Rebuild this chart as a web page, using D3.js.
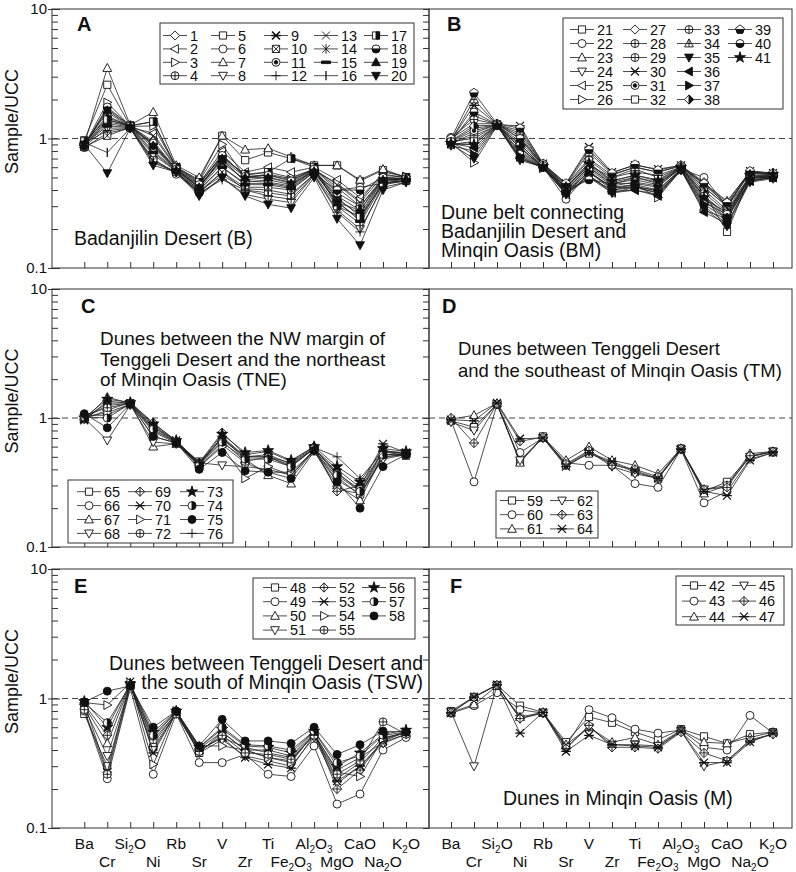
<!DOCTYPE html>
<html>
<head>
<meta charset="utf-8">
<script src="https://cdn.jsdelivr.net/npm/d3@7"></script>
<style>
  body { margin: 0; background: #fff; }
  svg { font-family: 'Liberation Sans', Arial, Helvetica, sans-serif; }
</style>
</head>
<body>
<div id="chart"></div>
<script>
// element order along the x axis
var categories = ['Ba', 'Cr', 'SiO2', 'Ni', 'Rb', 'Sr', 'V', 'Zr', 'Ti', 'Fe2O3', 'Al2O3', 'MgO', 'CaO', 'Na2O', 'K2O'];
// "_" means the next character is a subscript
var categoryLabels = ['Ba', 'Cr', 'Si_2O', 'Ni', 'Rb', 'Sr', 'V', 'Zr', 'Ti', 'Fe_2O_3', 'Al_2O_3', 'MgO', 'CaO', 'Na_2O', 'K_2O'];
var yTicks = [0.1, 1, 10];

// A - Badanjilin Desert
var samplesA = ['1', '2', '3', '4', '5', '6', '7', '8', '9', '10', '11', '12', '13', '14', '15', '16', '17', '18', '19', '20'];
var markersA = ['diamond', 'triL', 'triR', 'cplus', 'square', 'circle', 'tri', 'triD', 'aster', 'sqx', 'cdot', 'plus', 'x', 'star6', 'hbar', 'vbar', 'sqhalf', 'chalf', 'triF', 'triDF'];
var valuesA = [
  [0.92, 1.45, 1.25, 0.95, 0.58, 0.42, 0.72, 0.52, 0.55, 0.5, 0.58, 0.42, 0.3, 0.5, 0.49],
  [0.9, 1.6, 1.22, 1.1, 0.6, 0.45, 0.8, 0.55, 0.6, 0.55, 0.6, 0.48, 0.35, 0.53, 0.5],
  [0.88, 1.9, 1.24, 1.25, 0.6, 0.47, 0.9, 0.5, 0.52, 0.48, 0.57, 0.45, 0.33, 0.55, 0.51],
  [0.9, 1.3, 1.23, 0.8, 0.57, 0.4, 0.6, 0.45, 0.45, 0.42, 0.56, 0.35, 0.25, 0.48, 0.48],
  [0.97, 2.6, 1.25, 1.35, 0.6, 0.48, 1.05, 0.68, 0.78, 0.7, 0.62, 0.62, 0.47, 0.57, 0.5],
  [0.85, 1.1, 1.2, 0.7, 0.53, 0.38, 0.55, 0.4, 0.38, 0.36, 0.53, 0.4, 0.42, 0.45, 0.47],
  [0.9, 3.5, 1.27, 1.6, 0.62, 0.5, 1.05, 0.82, 0.84, 0.72, 0.62, 0.62, 0.48, 0.58, 0.5],
  [0.87, 1.2, 1.21, 0.75, 0.56, 0.37, 0.5, 0.37, 0.34, 0.32, 0.52, 0.28, 0.2, 0.42, 0.46],
  [0.88, 1.4, 1.24, 0.9, 0.58, 0.41, 0.65, 0.48, 0.5, 0.46, 0.57, 0.36, 0.28, 0.5, 0.48],
  [0.86, 1.05, 1.22, 0.68, 0.55, 0.39, 0.55, 0.42, 0.42, 0.4, 0.55, 0.32, 0.24, 0.46, 0.47],
  [0.9, 1.5, 1.23, 0.85, 0.57, 0.43, 0.7, 0.46, 0.48, 0.44, 0.56, 0.38, 0.3, 0.48, 0.49],
  [0.92, 1.15, 1.2, 0.65, 0.55, 0.38, 0.48, 0.4, 0.36, 0.34, 0.52, 0.27, 0.19, 0.44, 0.47],
  [0.89, 1.7, 1.25, 1.05, 0.59, 0.44, 0.76, 0.5, 0.53, 0.49, 0.58, 0.44, 0.32, 0.52, 0.5],
  [0.91, 1.35, 1.24, 0.9, 0.58, 0.42, 0.68, 0.47, 0.46, 0.43, 0.57, 0.34, 0.26, 0.49, 0.48],
  [0.9, 1.25, 1.22, 0.78, 0.56, 0.4, 0.6, 0.44, 0.44, 0.41, 0.55, 0.33, 0.23, 0.47, 0.48],
  [0.93, 0.78, 1.2, 0.66, 0.55, 0.39, 0.52, 0.41, 0.4, 0.37, 0.53, 0.3, 0.22, 0.45, 0.47],
  [0.95, 1.4, 1.26, 1.35, 0.6, 0.46, 0.72, 0.53, 0.55, 0.7, 0.6, 0.3, 0.25, 0.44, 0.5],
  [0.88, 1.75, 1.25, 0.92, 0.58, 0.44, 0.74, 0.51, 0.52, 0.47, 0.58, 0.4, 0.4, 0.5, 0.49],
  [0.9, 1.65, 1.24, 0.88, 0.57, 0.42, 0.7, 0.5, 0.5, 0.45, 0.56, 0.32, 0.28, 0.48, 0.49],
  [0.9, 0.54, 1.2, 0.62, 0.55, 0.36, 0.5, 0.36, 0.31, 0.29, 0.5, 0.24, 0.15, 0.4, 0.46]
];

// B - dune belt Badanjilin / Minqin
var samplesB = ['21', '22', '23', '24', '25', '26', '27', '28', '29', '30', '31', '32', '33', '34', '35', '36', '37', '38', '39', '40', '41'];
var markersB = ['square', 'circle', 'tri', 'triD', 'triL', 'triR', 'diamond', 'cplus', 'cplus', 'xbar', 'cdot', 'square', 'cplus', 'trplus', 'triDF', 'triLF', 'triRF', 'dhalf', 'phalf', 'chalf', 'star'];
var valuesB = [
  [0.95, 1.0, 1.27, 0.95, 0.62, 0.4, 0.6, 0.45, 0.45, 0.42, 0.6, 0.38, 0.19, 0.5, 0.52],
  [0.92, 1.1, 1.28, 0.85, 0.6, 0.34, 0.55, 0.42, 0.42, 0.4, 0.58, 0.5, 0.3, 0.5, 0.5],
  [1.0, 1.3, 1.3, 1.0, 0.63, 0.42, 0.62, 0.5, 0.58, 0.5, 0.6, 0.45, 0.33, 0.55, 0.53],
  [0.88, 0.8, 1.26, 0.75, 0.6, 0.38, 0.5, 0.4, 0.42, 0.38, 0.57, 0.3, 0.22, 0.47, 0.5],
  [0.9, 0.9, 1.27, 0.7, 0.6, 0.37, 0.52, 0.38, 0.4, 0.37, 0.57, 0.28, 0.24, 0.47, 0.5],
  [0.93, 0.65, 1.25, 0.72, 0.59, 0.38, 0.55, 0.42, 0.44, 0.35, 0.57, 0.32, 0.26, 0.5, 0.51],
  [0.98, 1.5, 1.28, 1.1, 0.63, 0.44, 0.7, 0.52, 0.6, 0.55, 0.62, 0.46, 0.3, 0.55, 0.53],
  [0.95, 1.2, 1.27, 0.9, 0.61, 0.42, 0.65, 0.47, 0.52, 0.48, 0.6, 0.4, 0.28, 0.52, 0.52],
  [0.92, 1.05, 1.26, 0.85, 0.6, 0.4, 0.6, 0.44, 0.5, 0.45, 0.59, 0.36, 0.25, 0.5, 0.5],
  [0.97, 1.8, 1.28, 1.25, 0.64, 0.45, 0.86, 0.55, 0.62, 0.58, 0.62, 0.42, 0.3, 0.56, 0.54],
  [0.94, 1.15, 1.27, 0.8, 0.61, 0.39, 0.58, 0.43, 0.46, 0.43, 0.59, 0.34, 0.27, 0.5, 0.51],
  [0.9, 0.95, 1.26, 0.78, 0.6, 0.38, 0.56, 0.41, 0.44, 0.4, 0.58, 0.33, 0.24, 0.49, 0.5],
  [1.02, 1.4, 1.29, 1.05, 0.62, 0.43, 0.68, 0.5, 0.55, 0.52, 0.6, 0.42, 0.3, 0.54, 0.53],
  [0.96, 2.0, 1.28, 1.15, 0.63, 0.44, 0.78, 0.53, 0.6, 0.55, 0.61, 0.44, 0.31, 0.55, 0.54],
  [0.9, 0.7, 1.26, 0.68, 0.6, 0.37, 0.5, 0.38, 0.42, 0.38, 0.57, 0.29, 0.21, 0.46, 0.49],
  [0.92, 0.85, 1.26, 0.7, 0.6, 0.38, 0.52, 0.39, 0.4, 0.36, 0.57, 0.27, 0.22, 0.47, 0.5],
  [0.94, 0.75, 1.27, 0.73, 0.6, 0.39, 0.55, 0.4, 0.43, 0.39, 0.58, 0.31, 0.24, 0.48, 0.5],
  [0.96, 1.25, 1.27, 0.9, 0.61, 0.41, 0.62, 0.46, 0.5, 0.46, 0.59, 0.38, 0.27, 0.51, 0.52],
  [1.0, 2.25, 1.3, 1.2, 0.64, 0.45, 0.82, 0.54, 0.63, 0.57, 0.62, 0.45, 0.32, 0.56, 0.54],
  [0.95, 1.6, 1.28, 1.0, 0.62, 0.4, 0.48, 0.45, 0.48, 0.44, 0.6, 0.36, 0.26, 0.5, 0.51],
  [0.92, 0.9, 1.27, 0.85, 0.61, 0.42, 0.64, 0.47, 0.52, 0.47, 0.6, 0.35, 0.24, 0.52, 0.53]
];

// C - NW margin of Tenggeli / NE of Minqin
var samplesC = ['65', '66', '67', '68', '69', '70', '71', '72', '73', '74', '75', '76'];
var markersC = ['square', 'circle', 'tri', 'triD', 'dplus', 'xbar', 'triR', 'cplus', 'star', 'chalfR', 'cfill', 'plus'];
var valuesC = [
  [1.0, 1.25, 1.3, 0.85, 0.65, 0.46, 0.68, 0.5, 0.5, 0.42, 0.58, 0.38, 0.27, 0.55, 0.51],
  [1.05, 1.05, 1.28, 0.78, 0.64, 0.42, 0.62, 0.45, 0.38, 0.38, 0.56, 0.35, 0.25, 0.5, 0.52],
  [0.98, 1.45, 1.3, 0.6, 0.63, 0.44, 0.7, 0.48, 0.36, 0.31, 0.55, 0.3, 0.23, 0.52, 0.53],
  [1.0, 0.67, 1.26, 0.65, 0.63, 0.45, 0.43, 0.42, 0.4, 0.36, 0.56, 0.28, 0.26, 0.48, 0.52],
  [0.98, 1.15, 1.32, 0.92, 0.66, 0.45, 0.77, 0.52, 0.55, 0.46, 0.6, 0.27, 0.3, 0.55, 0.53],
  [0.96, 1.35, 1.3, 0.85, 0.67, 0.43, 0.72, 0.5, 0.52, 0.44, 0.58, 0.4, 0.29, 0.63, 0.54],
  [1.02, 1.1, 1.28, 0.72, 0.64, 0.42, 0.6, 0.34, 0.42, 0.36, 0.57, 0.33, 0.26, 0.5, 0.52],
  [1.05, 1.2, 1.3, 0.8, 0.65, 0.44, 0.66, 0.46, 0.5, 0.43, 0.58, 0.37, 0.28, 0.56, 0.53],
  [1.0, 1.4, 1.32, 0.9, 0.67, 0.44, 0.75, 0.54, 0.56, 0.47, 0.6, 0.42, 0.32, 0.58, 0.55],
  [1.02, 1.0, 1.29, 0.82, 0.65, 0.43, 0.65, 0.48, 0.48, 0.42, 0.58, 0.36, 0.27, 0.52, 0.52],
  [1.08, 0.84, 1.28, 0.72, 0.64, 0.4, 0.54, 0.39, 0.38, 0.34, 0.56, 0.32, 0.2, 0.42, 0.52],
  [1.0, 1.3, 1.31, 0.88, 0.66, 0.45, 0.7, 0.5, 0.5, 0.45, 0.59, 0.5, 0.34, 0.55, 0.54]
];

// D - Tenggeli / SE of Minqin
var samplesD = ['59', '60', '61', '62', '63', '64'];
var markersD = ['square', 'circle', 'tri', 'triD', 'dplus', 'xbar'];
var valuesD = [
  [0.95, 0.85, 1.28, 0.46, 0.72, 0.43, 0.53, 0.45, 0.38, 0.34, 0.58, 0.27, 0.32, 0.5, 0.55],
  [0.96, 0.32, 1.27, 0.54, 0.7, 0.45, 0.43, 0.43, 0.31, 0.29, 0.57, 0.22, 0.27, 0.48, 0.54],
  [0.98, 1.05, 1.3, 0.45, 0.71, 0.47, 0.6, 0.47, 0.43, 0.37, 0.58, 0.26, 0.3, 0.53, 0.55],
  [0.93, 0.8, 1.28, 0.47, 0.7, 0.43, 0.55, 0.42, 0.37, 0.34, 0.57, 0.28, 0.3, 0.5, 0.55],
  [1.0, 0.64, 1.29, 0.66, 0.71, 0.44, 0.56, 0.43, 0.4, 0.35, 0.58, 0.28, 0.29, 0.51, 0.55],
  [0.97, 0.95, 1.31, 0.69, 0.7, 0.42, 0.54, 0.46, 0.39, 0.34, 0.57, 0.27, 0.25, 0.47, 0.54]
];

// E - Tenggeli / south of Minqin
var samplesE = ['48', '49', '50', '51', '52', '53', '54', '55', '56', '57', '58'];
var markersE = ['square', 'circle', 'tri', 'triD', 'dplus', 'xbar', 'triR', 'cplus', 'star', 'chalfR', 'cfill'];
var valuesE = [
  [0.76, 0.3, 1.25, 0.42, 0.77, 0.38, 0.55, 0.4, 0.35, 0.33, 0.53, 0.28, 0.35, 0.46, 0.53],
  [0.8, 0.24, 1.2, 0.26, 0.76, 0.32, 0.32, 0.37, 0.26, 0.25, 0.43, 0.153, 0.183, 0.4, 0.5],
  [0.88, 0.45, 1.28, 0.45, 0.78, 0.4, 0.5, 0.42, 0.38, 0.35, 0.53, 0.24, 0.32, 0.5, 0.54],
  [0.85, 0.36, 1.26, 0.4, 0.77, 0.38, 0.48, 0.36, 0.33, 0.3, 0.5, 0.22, 0.3, 0.45, 0.53],
  [0.9, 0.52, 1.3, 0.5, 0.79, 0.41, 0.55, 0.4, 0.4, 0.36, 0.55, 0.2, 0.28, 0.48, 0.55],
  [0.92, 0.27, 1.35, 0.38, 0.78, 0.4, 0.5, 0.35, 0.31, 0.29, 0.52, 0.23, 0.3, 0.47, 0.55],
  [0.93, 0.89, 1.32, 0.31, 0.8, 0.43, 0.43, 0.4, 0.35, 0.32, 0.54, 0.27, 0.25, 0.49, 0.55],
  [0.82, 0.26, 1.24, 0.48, 0.76, 0.39, 0.52, 0.38, 0.37, 0.34, 0.52, 0.26, 0.33, 0.66, 0.53],
  [0.95, 0.6, 1.3, 0.55, 0.8, 0.42, 0.58, 0.43, 0.42, 0.38, 0.56, 0.3, 0.38, 0.53, 0.57],
  [0.93, 0.65, 1.27, 0.52, 0.79, 0.42, 0.6, 0.44, 0.43, 0.4, 0.56, 0.32, 0.36, 0.52, 0.55],
  [0.94, 1.14, 1.25, 0.6, 0.8, 0.43, 0.69, 0.47, 0.47, 0.45, 0.6, 0.37, 0.44, 0.56, 0.55]
];

// F - Minqin Oasis
var samplesF = ['42', '43', '44', '45', '46', '47'];
var markersF = ['square', 'circle', 'tri', 'triD', 'dplus', 'xbar'];
var valuesF = [
  [0.8, 1.03, 1.27, 0.88, 0.78, 0.46, 0.72, 0.65, 0.55, 0.48, 0.58, 0.51, 0.45, 0.53, 0.55],
  [0.77, 0.88, 1.11, 0.82, 0.77, 0.43, 0.82, 0.71, 0.58, 0.54, 0.57, 0.42, 0.4, 0.74, 0.54],
  [0.78, 0.9, 1.25, 0.72, 0.78, 0.44, 0.6, 0.46, 0.5, 0.44, 0.57, 0.46, 0.45, 0.5, 0.55],
  [0.79, 0.3, 1.26, 0.7, 0.77, 0.42, 0.6, 0.44, 0.44, 0.43, 0.56, 0.3, 0.33, 0.48, 0.53],
  [0.78, 1.02, 1.27, 0.7, 0.78, 0.41, 0.62, 0.42, 0.42, 0.41, 0.55, 0.38, 0.33, 0.47, 0.53],
  [0.77, 1.03, 1.28, 0.54, 0.78, 0.39, 0.52, 0.44, 0.43, 0.42, 0.56, 0.32, 0.32, 0.46, 0.54]
];

var svgWidth = 796;
var svgHeight = 872;
var rows = [{ y0: 9, y1: 268 }, { y0: 289, y1: 547 }, { y0: 569, y1: 828 }];
var cols = [{ x0: 52, x1: 429, padL: 32.3, padR: 23 }, { x0: 429, x1: 792, padL: 22, padR: 19 }];

var panels = [
  { letter: 'A', row: 0, col: 0, samples: samplesA, markers: markersA, values: valuesA,
    letterPos: [77, 31], note: ['Badanjilin Desert (B)'], notePos: [74, 245], noteGap: 19, noteSize: 19.5, noteAnchor: 'start',
    legend: { box: [160, 23, 414, 84], cols: [163, 211, 264, 314, 364], y0: 35.5, step: 13.4, nRows: 4 } },
  { letter: 'B', row: 0, col: 1, samples: samplesB, markers: markersB, values: valuesB,
    letterPos: [447, 31], note: ['Dune belt connecting', 'Badanjilin Desert and', 'Minqin Oasis (BM)'], notePos: [441, 219], noteGap: 19, noteSize: 19.5, noteAnchor: 'start',
    legend: { box: [563, 18, 783, 109], cols: [570, 623, 677, 728], y0: 29.5, step: 14, nRows: 6 } },
  { letter: 'C', row: 1, col: 0, samples: samplesC, markers: markersC, values: valuesC,
    letterPos: [81, 313], note: ['Dunes between the NW margin of', 'Tenggeli Desert and the northeast', 'of Minqin Oasis (TNE)'], notePos: [100, 345], noteGap: 20.5, noteSize: 19, noteAnchor: 'start',
    legend: { box: [68, 480, 233, 543], cols: [77, 128, 180], y0: 491.7, step: 13.9, nRows: 4 } },
  { letter: 'D', row: 1, col: 1, samples: samplesD, markers: markersD, values: valuesD,
    letterPos: [442, 313], note: ['Dunes between Tenggeli Desert', 'and the southeast of Minqin Oasis (TM)'], notePos: [458, 355], noteGap: 21.5, noteSize: 18.5, noteAnchor: 'start',
    legend: { box: [496, 491, 598, 538], cols: [500, 550], y0: 500.5, step: 14.2, nRows: 3 } },
  { letter: 'E', row: 2, col: 0, samples: samplesE, markers: markersE, values: valuesE,
    letterPos: [74, 593], note: ['Dunes between Tenggeli Desert and', 'the south of Minqin Oasis (TSW)'], notePos: [423, 670], noteGap: 18.5, noteSize: 19.5, noteAnchor: 'end',
    legend: { box: [253, 578, 415, 639], cols: [263, 312, 362], y0: 587.5, step: 14.2, nRows: 4 } },
  { letter: 'F', row: 2, col: 1, samples: samplesF, markers: markersF, values: valuesF,
    letterPos: [450, 593], note: ['Dunes in Minqin Oasis (M)'], notePos: [503, 805], noteGap: 19, noteSize: 19.5, noteAnchor: 'start',
    legend: { box: [676, 576, 784, 625], cols: [682, 732], y0: 585.5, step: 15.6, nRows: 3 } }
];

var svg = d3
  .select('#chart')
  .append('svg')
  .attr('width', svgWidth)
  .attr('height', svgHeight);

svg.append('rect').attr('width', svgWidth).attr('height', svgHeight).attr('fill', 'white');

// draws one symbol centred on (0,0) inside g
function drawMarker(g, type) {
  var shape = function (d, fill) {
    return g.append('path').attr('d', d)
      .attr('fill', fill || 'white').attr('stroke', '#111').attr('stroke-width', 0.9);
  };
  var circ = 'M-4,0A4,4 0 1 0 4,0A4,4 0 1 0 -4,0Z';
  var sq = 'M-3.6,-3.6H3.6V3.6H-3.6Z';
  var dia = 'M0,-4.6L4.6,0L0,4.6L-4.6,0Z';
  var tri = 'M0,-4.6L4.4,3.4H-4.4Z';
  var triD = 'M0,4.6L4.4,-3.4H-4.4Z';
  var triL = 'M-4.6,0L3.4,-4.4V4.4Z';
  var triR = 'M4.6,0L-3.4,-4.4V4.4Z';
  switch (type) {
    case 'square': shape(sq); break;
    case 'circle': shape(circ); break;
    case 'diamond': shape(dia); break;
    case 'tri': shape(tri); break;
    case 'triD': shape(triD); break;
    case 'triL': shape(triL); break;
    case 'triR': shape(triR); break;
    case 'triF': shape(tri, '#111'); break;
    case 'triDF': shape(triD, '#111'); break;
    case 'triLF': shape(triL, '#111'); break;
    case 'triRF': shape(triR, '#111'); break;
    case 'cfill': shape(circ, '#111'); break;
    case 'cplus':
      shape(circ); shape('M-4,0H4M0,-4V4', 'none'); break;
    case 'dplus':
      shape(dia); shape('M-4.6,0H4.6M0,-4.6V4.6', 'none'); break;
    case 'trplus':
      shape(tri); shape('M0,-4.6V3.4M-2.5,0H2.5', 'none'); break;
    case 'cdot':
      shape(circ); shape('M-1.8,0A1.8,1.8 0 1 0 1.8,0A1.8,1.8 0 1 0 -1.8,0Z', '#111'); break;
    case 'sqx':
      shape(sq); shape('M-3.6,-3.6L3.6,3.6M-3.6,3.6L3.6,-3.6', 'none'); break;
    case 'plus':
      shape('M-4.6,0H4.6M0,-4.6V4.6', 'none'); break;
    case 'x':
      shape('M-4,-4L4,4M-4,4L4,-4', 'none'); break;
    case 'star6':
      shape('M-3.8,-3.8L3.8,3.8M-3.8,3.8L3.8,-3.8M0,-4.8V4.8', 'none'); break;
    case 'aster':
      shape('M-4,-4L4,4M-4,4L4,-4M-4.8,0H4.8', 'none').attr('stroke-width', 1.6); break;
    case 'xbar':
      shape('M-4,-4L4,4M-4,4L4,-4M-4.8,0H4.8', 'none').attr('stroke-width', 1.2); break;
    case 'hbar':
      shape('M-4.5,-1.3H4.5V1.3H-4.5Z', '#111'); break;
    case 'vbar':
      shape('M0,-4.6V4.6', 'none').attr('stroke-width', 1.3); break;
    case 'sqhalf':
      shape(sq); shape('M0,-3.6H3.6V3.6H0Z', '#111'); break;
    case 'chalf':
      shape(circ); shape('M-4,0A4,4 0 0 0 4,0Z', '#111'); break;
    case 'chalfR':
      shape(circ); shape('M0,-4A4,4 0 0 1 0,4Z', '#111'); break;
    case 'dhalf':
      shape(dia); shape('M0,-4.6L4.6,0L0,4.6Z', '#111'); break;
    case 'phalf':
      shape('M0,-4.6L4.4,-1.4L2.7,3.7H-2.7L-4.4,-1.4Z');
      shape('M-3.9,0H3.9L2.7,3.7H-2.7Z', '#111'); break;
    case 'star':
      shape(d3.symbol().type(d3.symbolStar).size(38)(), '#111'); break;
  }
}

// category label with subscripts
function addLabel(sel, label) {
  var parts = label.split('_');
  sel.append('tspan').text(parts[0]);
  parts.slice(1).forEach(function (p) {
    sel.append('tspan').attr('dy', 3.5).attr('font-size', '10px').text(p.charAt(0));
    if (p.length > 1) sel.append('tspan').attr('dy', -3.5).text(p.slice(1));
  });
}

panels.forEach(function (p) {
  var r = rows[p.row];
  var c = cols[p.col];
  var g = svg.append('g');

  var xScale = d3.scalePoint().domain(categories).range([c.x0 + c.padL, c.x1 - c.padR]);
  var yScale = d3.scaleLog().domain([0.1, 10]).range([r.y1, r.y0]);
  var minorTicks = yScale.ticks().filter(function (t) { return yTicks.indexOf(t) < 0; });

  // frame
  g.append('rect')
    .attr('x', c.x0).attr('y', r.y0)
    .attr('width', c.x1 - c.x0).attr('height', r.y1 - r.y0)
    .attr('fill', 'none').attr('stroke', '#333').attr('stroke-width', 1);

  // x ticks, pointing inwards
  var xAxis = g.append('g')
    .attr('transform', `translate(0, ${r.y1})`)
    .call(d3.axisBottom(xScale).tickSize(-6).tickFormat(''));
  xAxis.select('.domain').remove();

  if (p.col === 0) {
    var yMinor = g.append('g')
      .attr('transform', `translate(${c.x0}, 0)`)
      .call(d3.axisLeft(yScale).tickValues(minorTicks).tickSize(-6).tickFormat(''));
    var yMajorIn = g.append('g')
      .attr('transform', `translate(${c.x0}, 0)`)
      .call(d3.axisLeft(yScale).tickValues(yTicks).tickSize(-8).tickFormat(''));
    var yMajor = g.append('g')
      .attr('transform', `translate(${c.x0}, 0)`)
      .call(d3.axisLeft(yScale).tickValues(yTicks).tickSize(4).tickPadding(1)
        .tickFormat(function (d) { return String(d); }));
    yMajor.selectAll('text').attr('font-size', '15px').attr('font-family', null).attr('fill', '#111');
    var yRight = g.append('g')
      .attr('transform', `translate(${c.x1}, 0)`)
      .call(d3.axisRight(yScale).tickValues(minorTicks.concat(yTicks)).tickSize(-6).tickFormat(''));
    [yMinor, yMajorIn, yMajor, yRight].forEach(function (a) { a.select('.domain').remove(); });

    svg.append('text')
      .attr('transform', `translate(12, ${(r.y0 + r.y1) / 2 - 17}) rotate(-90)`)
      .attr('text-anchor', 'middle')
      .attr('dy', '0.35em')
      .attr('font-size', '18px')
      .attr('fill', '#111')
      .text('Sample/UCC');
  }
  g.selectAll('.tick line').attr('stroke', '#333');

  // reference line at Sample/UCC = 1
  g.append('line')
    .attr('x1', c.x0).attr('x2', c.x1)
    .attr('y1', yScale(1)).attr('y2', yScale(1))
    .attr('stroke', '#444').attr('stroke-dasharray', '6,4');

  // series
  var line = d3.line()
    .x(function (d, i) { return xScale(categories[i]); })
    .y(function (d) { return yScale(d); });

  p.values.forEach(function (vals, s) {
    var sg = g.append('g');
    sg.append('path')
      .attr('d', line(vals))
      .attr('fill', 'none').attr('stroke', '#222').attr('stroke-width', 0.8);
    vals.forEach(function (v, i) {
      var mg = sg.append('g').attr('transform', `translate(${xScale(categories[i])}, ${yScale(v)})`);
      drawMarker(mg, p.markers[s]);
    });
  });

  // panel letter
  g.append('text')
    .attr('x', p.letterPos[0]).attr('y', p.letterPos[1])
    .attr('font-size', '20px').attr('font-weight', 'bold').attr('fill', '#111')
    .text(p.letter);

  // region annotation
  p.note.forEach(function (t, i) {
    g.append('text')
      .attr('x', p.notePos[0]).attr('y', p.notePos[1] + i * p.noteGap)
      .attr('text-anchor', p.noteAnchor)
      .attr('font-size', p.noteSize + 'px').attr('fill', '#111')
      .text(t);
  });

  // legend
  var L = p.legend;
  var lg = g.append('g');
  lg.append('rect')
    .attr('x', L.box[0]).attr('y', L.box[1])
    .attr('width', L.box[2] - L.box[0]).attr('height', L.box[3] - L.box[1])
    .attr('fill', 'white').attr('stroke', '#333').attr('stroke-width', 1);
  p.samples.forEach(function (name, s) {
    var lx = L.cols[Math.floor(s / L.nRows)];
    var ly = L.y0 + (s % L.nRows) * L.step;
    lg.append('line')
      .attr('x1', lx).attr('x2', lx + 24).attr('y1', ly).attr('y2', ly)
      .attr('stroke', '#222').attr('stroke-width', 0.8);
    var mg = lg.append('g').attr('transform', `translate(${lx + 12}, ${ly})`);
    drawMarker(mg, p.markers[s]);
    lg.append('text')
      .attr('x', lx + 27).attr('y', ly)
      .attr('dy', '0.36em')
      .attr('font-size', '14.5px').attr('fill', '#111')
      .text(name);
  });

  // element names under the bottom row
  if (p.row === 2) {
    categories.forEach(function (cat, i) {
      var t = g.append('text')
        .attr('x', xScale(cat))
        .attr('y', i % 2 === 0 ? 849 : 867)
        .attr('text-anchor', 'middle')
        .attr('font-size', '15.5px').attr('fill', '#111');
      addLabel(t, categoryLabels[i]);
    });
  }
});
</script>
</body>
</html>
